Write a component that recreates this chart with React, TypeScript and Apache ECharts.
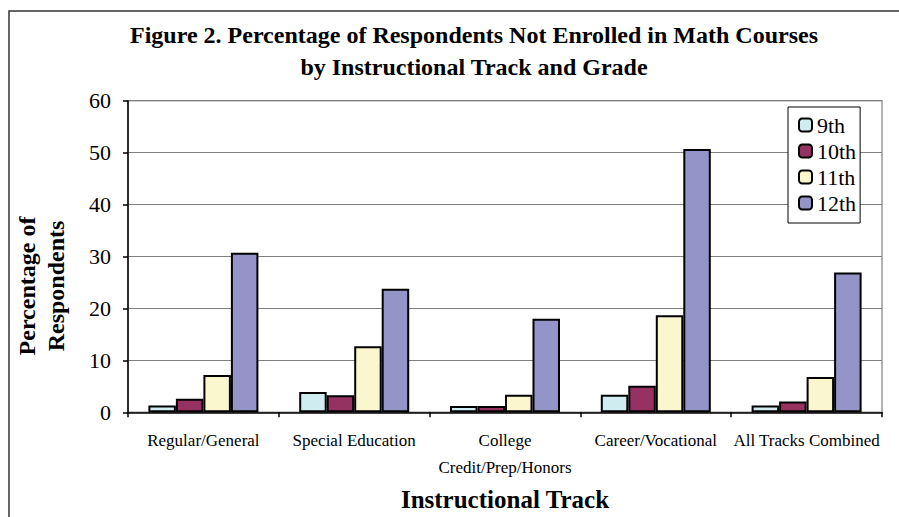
import React, { useEffect, useRef } from "react";
import * as echarts from "echarts";

const categories = [
  "Regular/General",
  "Special Education",
  "College\nCredit/Prep/Honors",
  "Career/Vocational",
  "All Tracks Combined",
];
const seriesNames = ["9th", "10th", "11th", "12th"];
const grade9 = [1.3, 3.9, 1.2, 3.4, 1.3];
const grade10 = [2.6, 3.3, 1.2, 5.1, 2.1];
const grade11 = [7.2, 12.7, 3.4, 18.7, 6.8];
const grade12 = [30.7, 23.8, 18.0, 50.7, 26.9];
const yTicks = [0, 10, 20, 30, 40, 50, 60];
const colors = ["#CFECF0", "#963262", "#FAF7CE", "#9494C8"];

const FONT = "'Liberation Serif', 'Times New Roman', serif";

export default function App() {
  const ref = useRef<HTMLDivElement>(null);
  useEffect(() => {
    if (!ref.current) return;
    const chart = echarts.init(ref.current, undefined, { renderer: "svg" });
    const data = [grade9, grade10, grade11, grade12];
    chart.setOption({
      animation: false,
      backgroundColor: "#fff",
      textStyle: { fontFamily: FONT },
      grid: {
        left: 128,
        right: 17,
        top: 100.7,
        bottom: 104.7,
        show: true,
        borderColor: "#999",
        borderWidth: 1.5,
      },
      legend: {
        orient: "vertical",
        left: 788,
        top: 107,
        data: seriesNames,
        itemWidth: 13,
        itemHeight: 13,
        itemGap: 4,
        padding: [7, 4, 9, 10],
        backgroundColor: "#fff",
        borderColor: "#000",
        borderWidth: 1,
        borderRadius: 0,
        textStyle: { fontSize: 22, fontFamily: FONT, color: "#000", padding: [0, 0, 0, 0] },
      },
      xAxis: {
        type: "category",
        data: categories,
        axisLine: { show: true, lineStyle: { color: "#000", width: 1.5 } },
        axisTick: { show: true, length: 5, lineStyle: { color: "#000", width: 1.5 } },
        axisLabel: {
          interval: 0,
          margin: 15,
          fontSize: 17,
          lineHeight: 27,
          color: "#000",
          fontFamily: FONT,
        },
      },
      yAxis: {
        type: "value",
        min: 0,
        max: 60,
        interval: 10,
        axisLine: { show: true, lineStyle: { color: "#000", width: 1.5 } },
        axisTick: { show: true, length: 5, lineStyle: { color: "#000", width: 1.5 } },
        splitLine: { show: true, lineStyle: { color: "#808080", width: 1 } },
        axisLabel: {
          margin: 17,
          fontSize: 22,
          color: "#000",
          fontFamily: FONT,
          formatter: (v: number) => (yTicks.includes(v) ? String(v) : ""),
        },
      },
      series: seriesNames.map((name, i) => ({
        name,
        type: "bar",
        data: data[i],
        barWidth: 27.5,
        barGap: "0%",
        itemStyle: { color: colors[i], borderColor: "#000", borderWidth: 2 },
      })),
      graphic: [
        {
          type: "rect",
          shape: { x: 9, y: 11, width: 900, height: 520 },
          style: { fill: "none", stroke: "#333", lineWidth: 1.5 },
          silent: true,
        },
        {
          type: "text",
          x: 474,
          y: 35,
          style: {
            text: "Figure 2. Percentage of Respondents Not Enrolled in Math Courses",
            fontSize: 24,
            fontWeight: "bold",
            fontFamily: FONT,
            fill: "#000",
            textAlign: "center",
            textVerticalAlign: "middle",
          },
        },
        {
          type: "text",
          x: 474,
          y: 67,
          style: {
            text: "by Instructional Track and Grade",
            fontSize: 24,
            fontWeight: "bold",
            fontFamily: FONT,
            fill: "#000",
            textAlign: "center",
            textVerticalAlign: "middle",
          },
        },
        {
          type: "text",
          x: 505,
          y: 499,
          style: {
            text: "Instructional Track",
            fontSize: 25,
            fontWeight: "bold",
            fontFamily: FONT,
            fill: "#000",
            textAlign: "center",
            textVerticalAlign: "middle",
          },
        },
        {
          type: "text",
          x: 41,
          y: 286,
          rotation: Math.PI / 2,
          style: {
            text: "Percentage of\nRespondents",
            fontSize: 24,
            lineHeight: 29,
            fontWeight: "bold",
            fontFamily: FONT,
            fill: "#000",
            textAlign: "center",
            textVerticalAlign: "middle",
          },
        },
      ],
    });
    return () => chart.dispose();
  }, []);
  return (
    <div
      ref={ref}
      style={{ position: "fixed", left: 0, top: 0, width: 899, height: 517 }}
    />
  );
}
